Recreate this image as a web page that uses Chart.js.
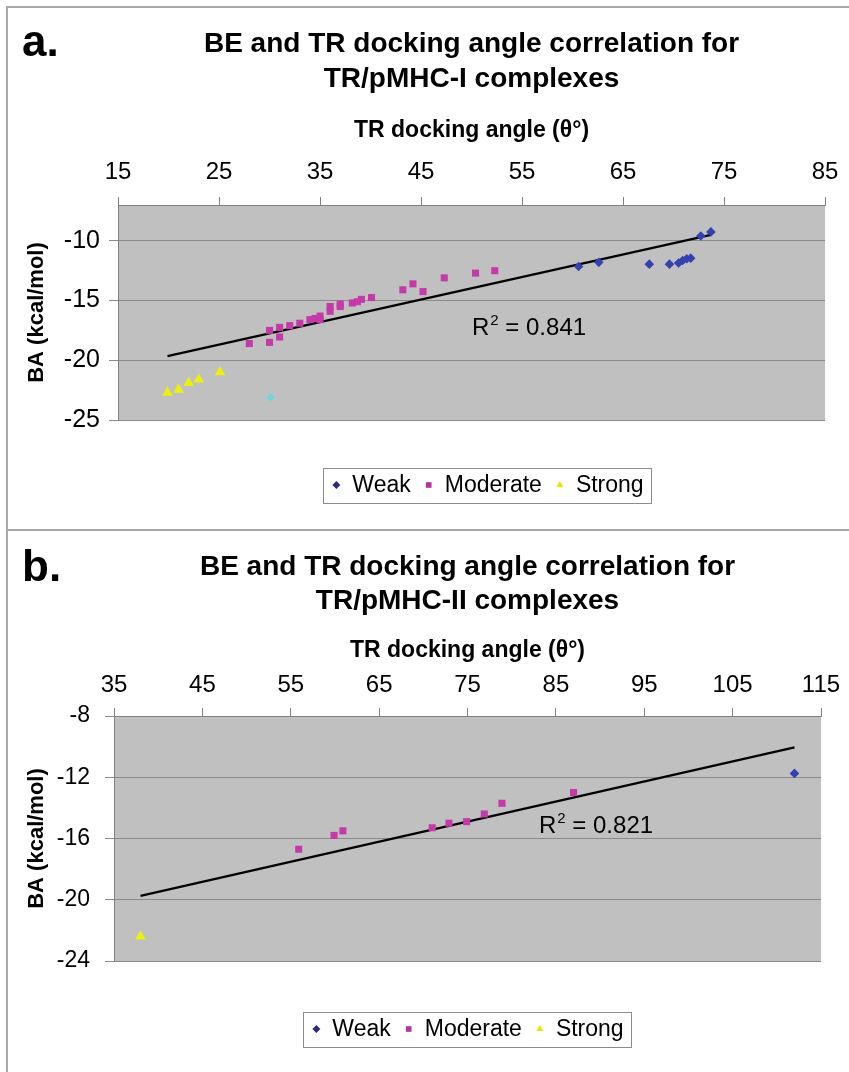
<!DOCTYPE html>
<html>
<head>
<meta charset="utf-8">
<script src="https://cdn.jsdelivr.net/npm/chart.js@4.4.1/dist/chart.umd.min.js"></script>
<style>
body { margin: 0; background: #fff; width: 849px; height: 1072px; position: relative; overflow: hidden; }
#frame { position: absolute; left: 6px; top: 6px; width: 860px; height: 1080px; border-left: 2px solid #a8a8a8; border-top: 2px solid #a8a8a8; }
#sep { position: absolute; left: 6px; width: 860px; top: 529px; border-top: 2px solid #a8a8a8; }
.box { position: absolute; left: 0; width: 849px; }
</style>
</head>
<body>
<div id="frame"></div>
<div id="sep"></div>
<div class="box" style="top:0;height:530px"><canvas id="chartA"></canvas></div>
<div class="box" style="top:530px;height:542px"><canvas id="chartB"></canvas></div>
<script>
// ---- data, panel a (TR/pMHC-I) : [docking angle, BA]
var weakA = [[60.6, -12.15], [62.6, -11.8], [67.6, -11.95], [69.6, -11.95], [70.5, -11.85],
             [70.9, -11.65], [71.3, -11.5], [71.7, -11.45], [72.7, -9.6], [73.7, -9.25]];
var moderateA = [[28.0, -18.6], [30.0, -17.5], [30.0, -18.5], [31.0, -17.25], [31.0, -18.05],
                 [32.0, -17.1], [33.0, -16.9], [34.0, -16.6], [34.5, -16.5], [35.0, -16.3],
                 [35.0, -16.6], [36.0, -15.5], [36.0, -15.9], [37.0, -15.3], [37.0, -15.5],
                 [38.2, -15.2], [38.7, -15.1], [39.1, -14.9], [40.1, -14.75], [43.2, -14.1],
                 [44.2, -13.6], [45.2, -14.25], [47.3, -13.1], [50.4, -12.7], [52.3, -12.5]];
var strongA = [[19.9, -22.7], [21.0, -22.45], [22.0, -21.9], [23.0, -21.6], [25.1, -21.0]];
var otherA = [[30.1, -23.1]];
var trendA = [[19.9, -19.65], [73.7, -9.5]];
var r2A = "0.841";
var xTicksA = { min: 15, max: 85, step: 10 };
var yTicksA = { min: -25, max: -7, step: 5 };

// ---- data, panel b (TR/pMHC-II)
var weakB = [[112.0, -11.75]];
var moderateB = [[55.9, -16.7], [59.9, -15.8], [60.9, -15.5], [71.0, -15.3], [72.9, -15.0],
                 [74.9, -14.9], [76.9, -14.4], [78.9, -13.7], [87.0, -13.0]];
var strongB = [[38.0, -22.4]];
var otherB = [];
var trendB = [[38.0, -19.75], [112.0, -10.05]];
var r2B = "0.821";
var xTicksB = { min: 35, max: 115, step: 10 };
var yTicksB = { min: -24, max: -8, step: 4 };

var seriesNames = ["Weak", "Moderate", "Strong"];

var FONT = "'Liberation Sans', Arial, sans-serif";

function pts(arr) {
    return arr.map(function (p) { return { x: p[0], y: p[1] }; });
}

// plot background, panel letter, R^2 label and boxed legend
var decor = {
    id: 'decor',
    beforeDraw: function (chart) {
        var a = chart.chartArea, ctx = chart.ctx;
        ctx.save();
        ctx.fillStyle = '#c0c0c0';
        ctx.fillRect(a.left, a.top, a.right - a.left, a.bottom - a.top);
        ctx.restore();
    },
    afterDraw: function (chart, args, o) {
        var ctx = chart.ctx;
        ctx.save();
        // panel letter
        ctx.fillStyle = '#000';
        ctx.font = 'bold 44px ' + FONT;
        ctx.textBaseline = 'alphabetic';
        ctx.fillText(o.letter, 22, o.letterY);

        // R^2 = ...
        var x = o.r2x, y = o.r2y;
        ctx.font = '24px ' + FONT;
        ctx.fillText('R', x, y);
        x += ctx.measureText('R').width + 1;
        ctx.font = '15px ' + FONT;
        ctx.fillText('2', x, y - 10);
        x += ctx.measureText('2').width;
        ctx.font = '24px ' + FONT;
        ctx.fillText(' = ' + o.r2, x, y);

        // legend
        ctx.font = '23px ' + FONT;
        var items = chart.data.datasets.filter(function (d) { return d.inLegend; });
        var w = 13 + 8;
        items.forEach(function (d, i) {
            w += 16 + ctx.measureText(d.label).width + (i < items.length - 1 ? 18 : 0);
        });
        var left = o.legendX - w / 2, top = o.legendY - 17.5;
        ctx.fillStyle = '#fff';
        ctx.fillRect(left, top, w, 35);
        ctx.strokeStyle = '#8c8c8c';
        ctx.lineWidth = 1;
        ctx.strokeRect(Math.round(left) + 0.5, Math.round(top) + 0.5, Math.round(w), 35);
        var cx = left + 13;
        items.forEach(function (d) {
            ctx.fillStyle = d.legendColor;
            Chart.helpers.drawPoint(ctx, { pointStyle: d.pointStyle, radius: 4, rotation: 0, borderWidth: 0 }, cx, o.legendY);
            ctx.fillStyle = '#000';
            ctx.textBaseline = 'middle';
            ctx.fillText(d.label, cx + 16, o.legendY + 1);
            cx += 16 + ctx.measureText(d.label).width + 18;
        });
        ctx.restore();
    }
};

function makeChart(id, d, L) {
    return new Chart(document.getElementById(id), {
        type: 'scatter',
        data: {
            datasets: [
                { label: seriesNames[0], inLegend: true, legendColor: '#2a2a80', data: pts(d.weak),
                  pointStyle: 'rectRot', pointRadius: 4.8, backgroundColor: '#3442b0', borderWidth: 0 },
                { label: seriesNames[1], inLegend: true, legendColor: '#b8329c', data: pts(d.moderate),
                  pointStyle: 'rect', pointRadius: 5, backgroundColor: '#c43aa8', borderWidth: 0 },
                { label: seriesNames[2], inLegend: true, legendColor: '#e6e600', data: pts(d.strong),
                  pointStyle: 'triangle', pointRadius: 6.2, backgroundColor: '#eeee12', borderWidth: 0 },
                { label: 'other', data: pts(d.other),
                  pointStyle: 'rectRot', pointRadius: 4.2, backgroundColor: '#6fd6dc', borderWidth: 0 },
                { label: 'trend', data: pts(d.trend), showLine: true, pointRadius: 0,
                  borderColor: '#000', borderWidth: 2.2, fill: false }
            ]
        },
        options: {
            responsive: true,
            maintainAspectRatio: false,
            animation: false,
            events: [],
            layout: { padding: { left: 0, right: L.padRight, top: 0, bottom: L.padBottom } },
            plugins: {
                legend: { display: false },
                tooltip: { enabled: false },
                title: {
                    display: true, fullSize: false,
                    text: d.title,
                    color: '#000',
                    font: { family: FONT, size: 28, weight: 'bold', lineHeight: L.titleLH / 28 },
                    padding: { top: L.titleTop, bottom: 0 }
                },
                decor: L.decor
            },
            scales: {
                x: {
                    type: 'linear', position: 'top',
                    min: d.xt.min, max: d.xt.max,
                    ticks: { stepSize: d.xt.step, color: '#000', padding: L.xTickPad,
                             font: { family: FONT, size: 24 } },
                    grid: { drawOnChartArea: false, drawTicks: true, tickLength: 8, color: '#808080' },
                    border: { display: true, color: '#808080', width: 1 },
                    title: { display: true, text: 'TR docking angle (θ°)', color: '#000',
                             font: { family: FONT, size: 23, weight: 'bold', lineHeight: 1.2 },
                             padding: { top: L.xTitlePad, bottom: 0 } },
                    afterFit: function (s) { s.height = L.xHeight; }
                },
                y: {
                    type: 'linear', position: 'left',
                    min: d.yt.min, max: d.yt.max,
                    ticks: { stepSize: d.yt.step, includeBounds: false, color: '#000', padding: L.yTickPad,
                             font: { family: FONT, size: L.yTickSize } },
                    grid: { color: '#8a8a8a', tickLength: 9, lineWidth: 1 },
                    border: { display: true, color: '#808080', width: 1 },
                    title: { display: true, text: 'BA (kcal/mol)', color: '#000',
                             font: { family: FONT, size: 22, weight: 'bold', lineHeight: 1.2 },
                             padding: { top: 24, bottom: 0 } },
                    afterFit: function (s) { s.width = L.yWidth; }
                }
            }
        },
        plugins: [decor]
    });
}

makeChart('chartA', {
    weak: weakA, moderate: moderateA, strong: strongA, other: otherA, trend: trendA,
    xt: xTicksA, yt: yTicksA,
    title: ['BE and TR docking angle correlation for', 'TR/pMHC-I complexes']
}, {
    padRight: 21, padBottom: 110, titleLH: 35, titleTop: 26.5, xHeight: 108.5,
    xTickPad: 10.6, xTitlePad: 20.7, yTickPad: 9, yTickSize: 25, yWidth: 118,
    decor: { letter: 'a.', letterY: 56, r2: r2A, r2x: 472, r2y: 335, legendX: 487.5, legendY: 485 }
});

makeChart('chartB', {
    weak: weakB, moderate: moderateB, strong: strongB, other: otherB, trend: trendB,
    xt: xTicksB, yt: yTicksB,
    title: ['BE and TR docking angle correlation for', 'TR/pMHC-II complexes']
}, {
    padRight: 28, padBottom: 111, titleLH: 34, titleTop: 20, xHeight: 98,
    xTickPad: 8, xTitlePad: 19, yTickPad: 15, yTickSize: 23, yWidth: 114,
    decor: { letter: 'b.', letterY: 51, r2: r2B, r2x: 539, r2y: 303, legendX: 467.5, legendY: 499 }
});
</script>
</body>
</html>
